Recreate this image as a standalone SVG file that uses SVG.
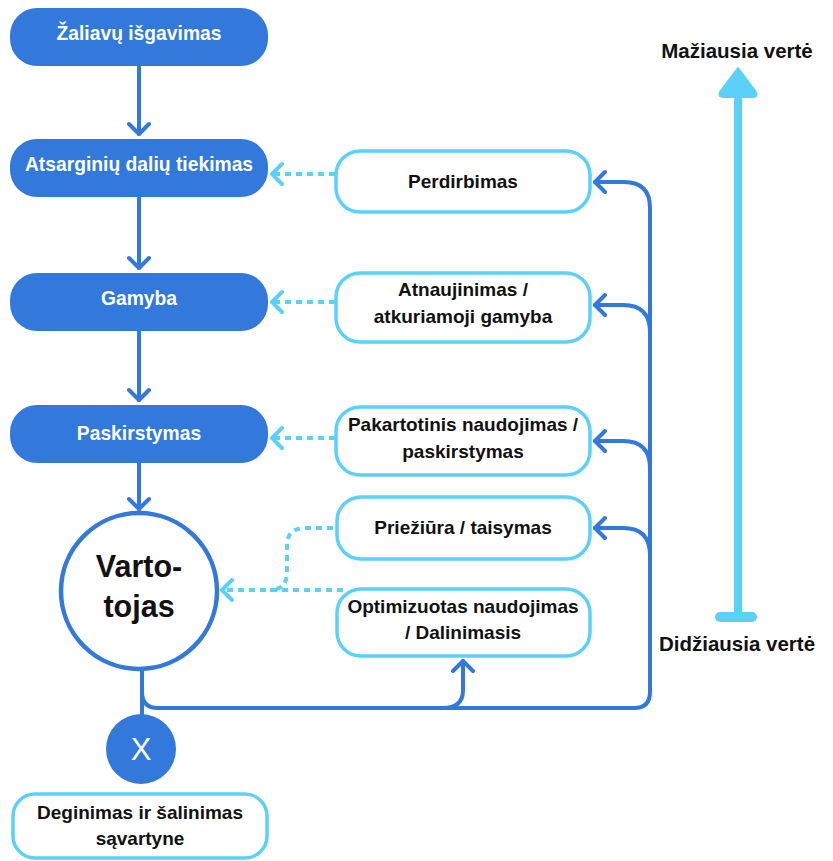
<svg xmlns="http://www.w3.org/2000/svg" width="833" height="861" viewBox="0 0 833 861">
<style>
.lb{fill:#3378DB;stroke:none}
.lt{font-family:"Liberation Sans",Arial,sans-serif;font-weight:bold;font-size:19.3px;fill:#fff;text-anchor:middle}
.rb{fill:#fff;stroke:#5BD1FA;stroke-width:3.5}
.rt{font-family:"Liberation Sans",Arial,sans-serif;font-weight:bold;font-size:19px;fill:#111;text-anchor:middle}
.cn{fill:none;stroke:#3378DB;stroke-width:4;stroke-linecap:round;stroke-linejoin:round}
.dt{fill:none;stroke:#5BD1FA;stroke-width:4;stroke-dasharray:6 5}
.ax{font-family:"Liberation Sans",Arial,sans-serif;font-weight:bold;font-size:20.5px;fill:#111;text-anchor:middle}
</style>
<defs>
<marker id="ab" markerUnits="userSpaceOnUse" viewBox="-14 -13 16 26" markerWidth="16" markerHeight="26" refX="0" refY="0" orient="auto">
<path d="M-10,-10 L0,0 L-10,10" fill="none" stroke="#3378DB" stroke-width="4" stroke-linecap="round" stroke-linejoin="round"/>
</marker>
<marker id="al" markerUnits="userSpaceOnUse" viewBox="-14 -13 16 26" markerWidth="16" markerHeight="26" refX="0" refY="0" orient="auto">
<path d="M-10,-10 L0,0 L-10,10" fill="none" stroke="#5BD1FA" stroke-width="4" stroke-linecap="round" stroke-linejoin="round"/>
</marker>
</defs>

<g id="connectors">
<path class="cn" d="M139,67 V134" marker-end="url(#ab)"/>
<path class="cn" d="M139,198 V268" marker-end="url(#ab)"/>
<path class="cn" d="M139,331 V400" marker-end="url(#ab)"/>
<path class="cn" d="M139,463 V509" marker-end="url(#ab)"/>
<path class="cn" d="M142,669 V716"/>
<path class="cn" d="M142,669 V692 Q142,708 158,708 H634 Q650,708 650,692 V208 Q650,182 624,182 H595" marker-end="url(#ab)"/>
<path class="cn" d="M650,332 Q650,305 623,305 H595" marker-end="url(#ab)"/>
<path class="cn" d="M650,468 Q650,441 623,441 H595" marker-end="url(#ab)"/>
<path class="cn" d="M650,555 Q650,528 623,528 H595" marker-end="url(#ab)"/>
<path class="cn" d="M443,708 Q463,708 463,690 V661" marker-end="url(#ab)"/>
<path class="dt" d="M335,174 H272" marker-end="url(#al)"/>
<path class="dt" d="M335,302 H272" marker-end="url(#al)"/>
<path class="dt" d="M335,438 H272" marker-end="url(#al)"/>
<path class="dt" d="M333,528 H305 Q287,528 287,546 V572 Q287,590 270,590"/>
<path class="dt" d="M343,590 H222" marker-end="url(#al)"/>
</g>

<g id="n-zaliavu"><rect class="lb" x="10" y="8" width="258" height="58" rx="27"/><text class="lt" x="139" y="40">Žaliavų išgavimas</text></g>
<g id="n-atsarginiu"><rect class="lb" x="10" y="139" width="258" height="58" rx="27"/><text class="lt" x="139" y="171">Atsarginių dalių tiekimas</text></g>
<g id="n-gamyba"><rect class="lb" x="10" y="273" width="258" height="58" rx="27"/><text class="lt" x="139" y="305">Gamyba</text></g>
<g id="n-paskirstymas"><rect class="lb" x="10" y="405" width="258" height="58" rx="27"/><text class="lt" x="139" y="440">Paskirstymas</text></g>

<g id="n-vartotojas"><circle cx="139" cy="591" r="78" fill="#fff" stroke="#3378DB" stroke-width="4.5"/>
<text x="139" y="577" font-family="'Liberation Sans',Arial,sans-serif" font-weight="bold" font-size="30.5" text-anchor="middle" fill="#111">Varto-</text>
<text x="139" y="617" font-family="'Liberation Sans',Arial,sans-serif" font-weight="bold" font-size="30.5" text-anchor="middle" fill="#111">tojas</text></g>

<g id="n-x"><circle cx="141" cy="749" r="35" fill="#3378DB"/><text x="141" y="760" font-family="'Liberation Sans',Arial,sans-serif" font-size="31" text-anchor="middle" fill="#fff">X</text></g>

<g id="n-deginimas"><rect class="rb" x="13" y="794" width="254" height="64" rx="22"/><text class="rt" x="140" y="819">Deginimas ir šalinimas</text><text class="rt" x="140" y="845">sąvartyne</text></g>

<g id="n-perdirbimas"><rect class="rb" x="336" y="151" width="254" height="61" rx="24"/><text class="rt" x="463" y="188">Perdirbimas</text></g>
<g id="n-atnaujinimas"><rect class="rb" x="336" y="273" width="254" height="69" rx="24"/><text class="rt" x="463" y="296">Atnaujinimas /</text><text class="rt" x="463" y="323">atkuriamoji gamyba</text></g>
<g id="n-pakartotinis"><rect class="rb" x="336" y="407" width="254" height="68" rx="24"/><text class="rt" x="463" y="431">Pakartotinis naudojimas /</text><text class="rt" x="463" y="458">paskirstymas</text></g>
<g id="n-prieziura"><rect class="rb" x="337" y="497" width="253" height="62" rx="24"/><text class="rt" x="463" y="534">Priežiūra / taisymas</text></g>
<g id="n-optimizuotas"><rect class="rb" x="337" y="589" width="253" height="67" rx="24"/><text class="rt" x="463" y="613">Optimizuotas naudojimas</text><text class="rt" x="463" y="639">/ Dalinimasis</text></g>

<g id="value-axis">
<rect x="734" y="92" width="8" height="525" fill="#5BD1FA"/>
<path d="M738,68 L756,92 Q758,97 753,97 L723,97 Q718,97 720,92 Z" fill="#5BD1FA" stroke="#5BD1FA" stroke-width="2" stroke-linejoin="round"/>
<rect x="715" y="612" width="42" height="10" rx="5" fill="#5BD1FA"/>
<text class="ax" x="737" y="58">Mažiausia vertė</text>
<text class="ax" x="737" y="651">Didžiausia vertė</text>
</g>
</svg>
